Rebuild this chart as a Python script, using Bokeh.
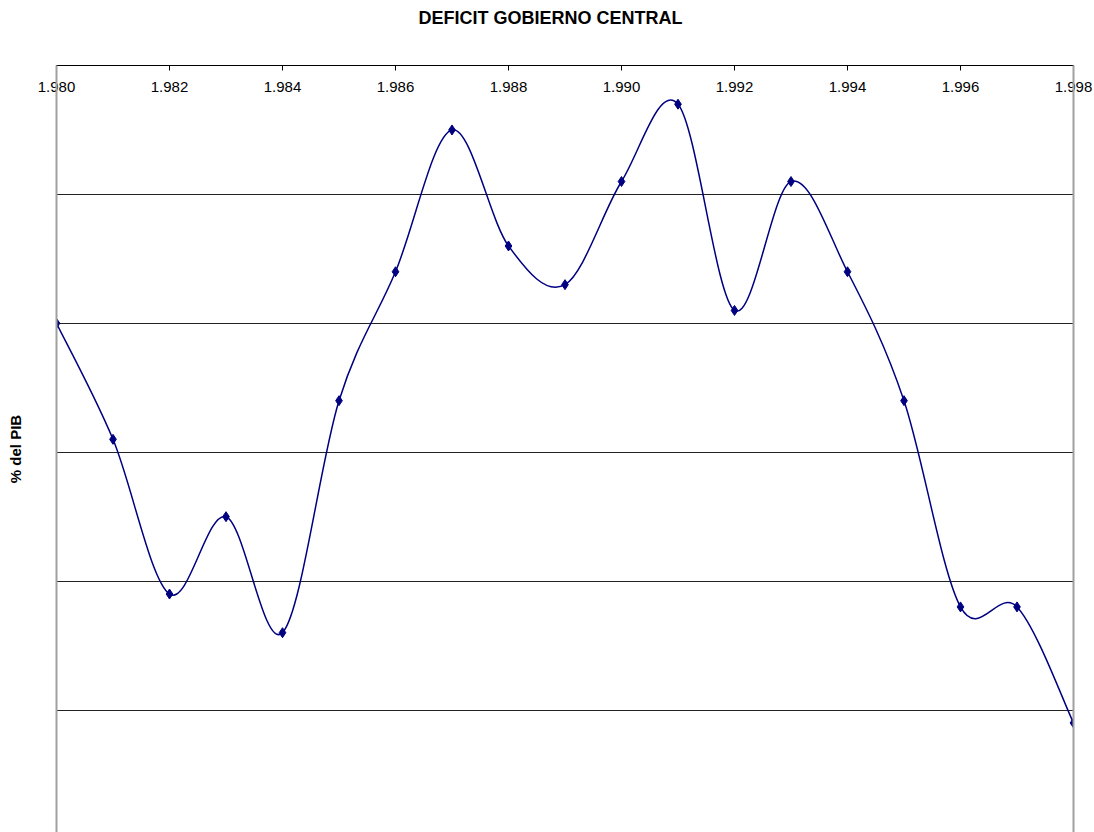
from bokeh.plotting import figure
from bokeh.models import Range1d, LinearAxis, FixedTicker, Title
from bokeh.embed import file_html
from bokeh.resources import INLINE

# ---- data ----
years = list(range(1980, 1999))
deficit = [-2.0, -2.9, -4.1, -3.5, -4.4, -2.6, -1.6, -0.5, -1.4, -1.7,
           -0.9, -0.3, -1.9, -0.9, -1.6, -2.6, -4.2, -4.2, -5.1]
tick_years = list(range(1980, 1999, 2))
tick_labels = ["1.980", "1.982", "1.984", "1.986", "1.988", "1.990",
               "1.992", "1.994", "1.996", "1.998"]
grid_levels = [-1, -2, -3, -4, -5]

FONT = "Liberation Sans"
LINE = "#000080"

p = figure(width=1094, height=832,
           x_range=Range1d(1980, 1998), y_range=Range1d(-5.95, 0),
           x_axis_location="above", y_axis_location="left",
           output_backend="svg", toolbar_location=None,
           min_border_left=56, min_border_right=21,
           min_border_top=65, min_border_bottom=0)
p.outline_line_color = None
p.background_fill_color = "white"
p.border_fill_color = "white"

# spacer between the top axis and the title
spacer = Title(text=" ", text_font_size="32px", standoff=0)
p.add_layout(spacer, "above")

# title
p.title.text = "DEFICIT GOBIERNO CENTRAL"
p.title.text_font = FONT
p.title.text_font_size = "18px"
p.title.text_font_style = "bold"
p.title.align = "left"
p.title.offset = 362
p.title.standoff = 0
p.title.text_color = "black"

# top (category) axis, labels inside the plot
xa = p.xaxis[0]
xa.ticker = FixedTicker(ticks=tick_years)
xa.major_label_overrides = {y: l for y, l in zip(tick_years, tick_labels)}
xa.major_label_text_font = FONT
xa.major_label_text_font_size = "15px"
xa.major_label_text_color = "black"
xa.major_label_standoff = -26
xa.major_tick_in = 5
xa.major_tick_out = 0
xa.minor_tick_line_color = None
xa.axis_line_color = "black"
xa.axis_line_width = 1
xa.major_tick_line_color = "black"

# left axis: gray line, no ticks, label only
ya = p.yaxis[0]
ya.ticker = FixedTicker(ticks=[])
ya.major_tick_in = 0
ya.major_tick_out = 0
ya.minor_tick_line_color = None
ya.major_tick_line_color = None
ya.axis_line_color = "#a0a0a0"
ya.axis_line_width = 2
ya.axis_label = "% del PIB"
ya.axis_label_text_font = FONT
ya.axis_label_text_font_size = "15px"
ya.axis_label_text_font_style = "bold"
ya.axis_label_text_color = "black"
ya.axis_label_standoff = 33

# right border line
ra = LinearAxis(ticker=FixedTicker(ticks=[]),
                axis_line_color="#a0a0a0", axis_line_width=2,
                major_tick_out=0, major_tick_in=0, minor_tick_out=0,
                minor_tick_line_color=None, major_tick_line_color=None)
p.add_layout(ra, "right")

# horizontal gridlines
p.xgrid.visible = False
p.ygrid.ticker = FixedTicker(ticks=grid_levels)
p.ygrid.grid_line_color = "#222222"
p.ygrid.grid_line_width = 1

# smoothed line (Catmull-Rom style cubic Bezier through the points)
n = len(years)
x0, y0, x1, y1, cx0, cy0, cx1, cy1 = [], [], [], [], [], [], [], []
for i in range(n - 1):
    im1 = max(i - 1, 0)
    ip2 = min(i + 2, n - 1)
    x0.append(years[i]); y0.append(deficit[i])
    x1.append(years[i + 1]); y1.append(deficit[i + 1])
    cx0.append(years[i] + (years[i + 1] - years[im1]) / 6)
    cy0.append(deficit[i] + (deficit[i + 1] - deficit[im1]) / 6)
    cx1.append(years[i + 1] - (years[ip2] - years[i]) / 6)
    cy1.append(deficit[i + 1] - (deficit[ip2] - deficit[i]) / 6)
p.bezier(x0=x0, y0=y0, x1=x1, y1=y1, cx0=cx0, cy0=cy0, cx1=cx1, cy1=cy1,
         line_color=LINE, line_width=1.5)
p.scatter(years, deficit, marker="diamond", size=10,
          fill_color=LINE, line_color=LINE)

open("out.html", "w").write(file_html(p, INLINE))
